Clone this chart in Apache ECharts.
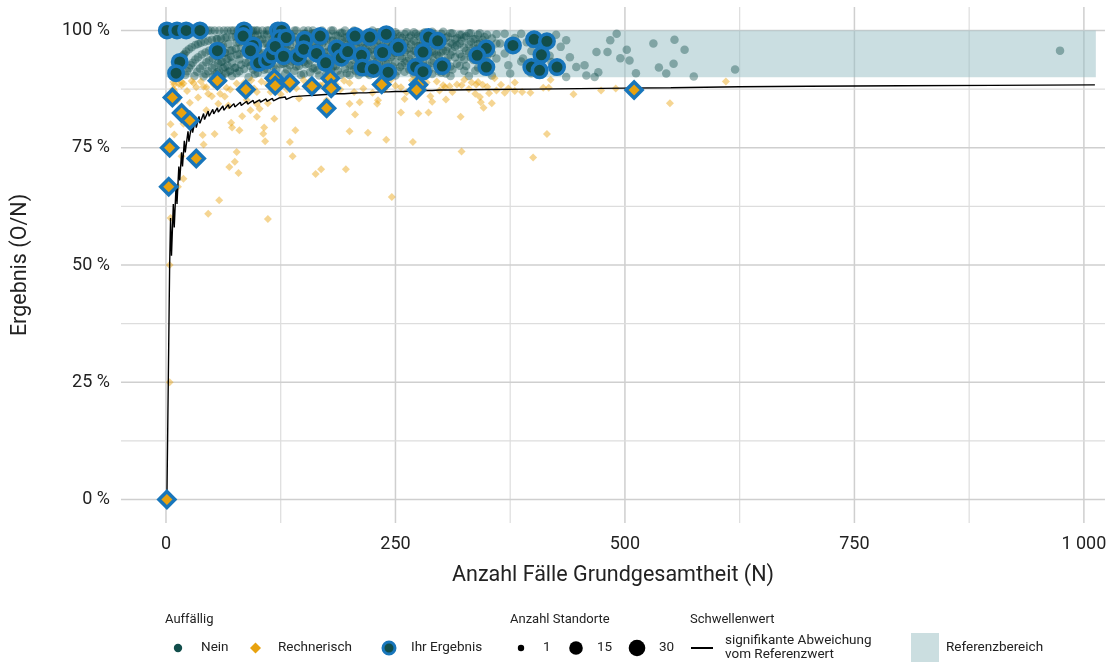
<!DOCTYPE html>
<html><head><meta charset="utf-8">
<script src="https://cdn.jsdelivr.net/npm/echarts@6/dist/echarts.min.js"></script>
<style>html,body{margin:0;padding:0;background:#fff}#c{width:1114px;height:664px}</style>
</head><body><div id="c"></div>
<script>
const xTicks = [0, 250, 500, 750, 1000];
const yTicks = [0, 25, 50, 75, 100];
const xGrid = [0, 125, 250, 375, 500, 625, 750, 875, 1000];
const yGrid = [0, 12.5, 25, 37.5, 50, 62.5, 75, 87.5, 100];
const refBand = [[0, 1013, 90, 100]];

const neinBg = [
[1,100],[2,100],[3,100],[4,100],[5,100],[6,100],[7,100],[8,100],[9,100],[10,100],[11,100],[12,100],[13,100],[14,100],[15,100],[16,100],[17,100],[18,100],[19,100],[20,100],
[10,90],[11,90.9],[12,91.7],[13,92.3],[14,92.9],[15,93.3],[16,93.8],[17,94.1],[18,94.4],[19,94.7],[20,95],
[22,100],[25,100],[28,100],[31,100],[34,100],[37,100],[40,100],[43,100],[46,100],[49,100],
[22,95.5],[25,96],[28,96.4],[32,96.9],[35,97.1],[38,97.4],[42,97.6],[46,97.8],[50,98],[55,98.2],[60,98.3],[66,98.5],
[21,90.5],[23,91.3],[25,92],[27,92.6],[29,93.1],[32,93.8],[35,94.3],[39,94.9],[43,95.3],[47,95.7],[52,96.2],[57,96.5],[62,96.8],[68,97.1],
[31,90.3],[34,91.2],[37,91.9],[40,92.5],[44,93.2],[47,93.6],[51,94.1],[55,94.5],[59,94.9],[64,95.3],[70,95.7],
[41,90.2],[43,90.7],[46,91.3],[50,92],[53,92.5],[57,93],[61,93.4],[66,93.9],[71,94.4],
[51,90.2],[54,90.7],[58,91.4],[62,91.9],[67,92.5],[72,93.1],
[61,90.2],[65,90.8],[70,91.4],[75,92],
[53,100],[58,100],[63,100],[67,100],[71,100],[74,100],[78,100],[83,100],[88,100],[93,100],[98,100],
[56,98.2],[56,94.6],[56,91.1],
[60,96.7],[60,93.3],[60,90],[64,98.4],[64,95.3],[64,92.2],
[68,94.1],[68,91.2],[72,98.6],[72,95.8],[72,90.3],
[76,96.1],[76,92.1],[76,98.7],[80,97.5],[80,93.8],[80,91.3],[80,100],[80,95],
[85,98.8],[85,95.3],[85,91.8],[85,100],[90,96.7],[90,93.3],[90,90],[90,98.9],
[95,97.9],[95,94.7],[95,91.6],[95,100],[95,96.8],[100,99],[100,96],[100,93],[100,91],[100,100],
[105,98.1],[105,95.2],[105,92.4],[105,100],[110,97.3],[110,94.5],[110,91.8],[110,99.1],[110,100],
[115,98.3],[115,95.7],[115,93],[115,90.4],[120,99.2],[120,96.7],[120,94.2],[120,91.7],[120,100],
[125,97.6],[125,95.2],[125,92.8],[125,100],[130,98.5],[130,96.2],[130,93.1],[130,90.8],[130,100],
[135,97],[135,94.8],[135,92.6],[135,99.3],[140,98.6],[140,95.7],[140,93.6],[140,91.4],[140,100],
[145,97.9],[145,96.6],[145,94.5],[145,92.4],[150,99.3],[150,96],[150,93.3],[150,90.7],[150,100],
[155,98.1],[155,95.5],[155,92.9],[155,100],[160,97.5],[160,95],[160,91.9],[160,99.4],[160,100],
[165,98.2],[165,96.4],[165,93.9],[165,91.5],[170,99.4],[170,97.1],[170,94.7],[170,92.4],[170,100],
[175,98.3],[175,95.4],[175,93.1],[175,90.9],[180,97.8],[180,96.1],[180,93.9],[180,91.7],[180,100],
[185,98.9],[185,96.8],[185,94.6],[185,92.4],[190,99.5],[190,97.4],[190,95.3],[190,93.2],[190,90.5],
[195,98.5],[195,96.4],[195,94.4],[195,91.8],[195,100],[200,99],[200,97],[200,95],[200,92.5],[200,90.5],
[205,98],[205,96.1],[205,93.7],[205,91.7],[205,100],[210,99.5],[210,97.6],[210,95.2],[210,92.9],[210,90.5],
[215,98.6],[215,96.3],[215,94],[215,91.6],[220,99.1],[220,97.3],[220,95.5],[220,93.2],[220,90.9],
[225,98.2],[225,96],[225,93.8],[225,91.6],[225,100],[230,99.6],[230,97.4],[230,95.7],[230,93.5],[230,90.9],
[235,98.7],[235,96.6],[235,94.5],[235,92.3],[240,99.2],[240,97.5],[240,95.4],[240,92.9],[240,90.8],
[245,98.4],[245,96.3],[245,94.3],[245,91.4],[250,99.6],[250,97.6],[250,95.2],[250,93.2],[250,90.4],
[255,98.8],[255,96.9],[255,94.5],[255,92.2],[260,99.2],[260,97.3],[260,95.4],[260,93.1],[260,91.2],
[265,98.5],[265,96.2],[265,94],[265,91.7],[270,99.6],[270,97.8],[270,95.6],[270,93.3],[270,90.7],
[275,98.9],[275,96.7],[275,94.5],[275,92.4],[280,99.3],[280,97.5],[280,95.4],[280,93.2],[280,91.1],
[285,98.2],[285,96.5],[285,94.4],[285,92.6],[290,99.7],[290,97.6],[290,95.5],[290,93.1],[290,90.7],
[295,98.6],[295,96.9],[295,94.9],[295,92.5],[300,99.3],[300,97.3],[300,95.3],[300,93.3],[300,91],
[77,97.4],[77,94.8],[77,90.9],[82,98.8],[82,96.3],[82,92.7],
[87,100],[87,97.7],[87,93.1],[92,98.9],[92,95.9],[92,92.4],[97,99],[97,96.9],[97,93.8],[97,90.7],
[102,98],[102,95.1],[102,92.2],[107,99.1],[107,97.2],[107,94.4],[107,91.6],[112,100],[112,96.4],[112,93.8],
[117,98.3],[117,95.7],[117,92.3],[122,99.2],[122,97.5],[122,94.3],[122,90.2],[127,98.4],[127,96.1],[127,92.9],
[132,99.2],[132,97],[132,94.7],[132,91.7],[137,98.5],[137,95.6],[137,93.4],[142,100],[142,97.2],[142,94.4],[142,92.3],
[147,98.6],[147,96.6],[147,93.9],[147,90.5],[152,99.3],[152,97.4],[152,95.4],[152,92.8],[157,98.1],[157,96.2],[157,93.6],[157,91.1],
[162,99.4],[162,97.5],[162,94.4],[162,92],[167,98.8],[167,96.4],[167,94],[167,90.4],[172,99.4],[172,97.7],[172,95.3],[172,93],
[177,98.9],[177,96.6],[177,94.4],[177,91.5],[182,100],[182,97.8],[182,95.6],[182,92.3],[187,98.9],[187,96.3],[187,94.1],[187,91.4],
[192,99.5],[192,97.9],[192,95.8],[192,93.2],[197,98.5],[197,96.9],[197,94.9],[197,90.9],[202,99.5],[202,97.5],[202,95.5],[202,92.6],
[207,98.6],[207,96.6],[207,94.2],[207,91.3],[212,99.1],[212,97.2],[212,95.3],[212,93.4],[217,98.6],[217,96.3],[217,94.5],[217,92.2],
[222,99.5],[222,97.7],[222,95.5],[222,90.5],[227,98.7],[227,96.9],[227,94.7],[227,92.5],[232,99.6],[232,97.8],[232,95.3],[232,93.1],
[237,98.7],[237,96.2],[237,94.1],[237,91.6],[242,99.6],[242,97.5],[242,95.5],[242,93.4],[247,98.8],[247,96.8],[247,94.7],[247,92.3],
[252,99.2],[252,97.6],[252,95.6],[252,91.3],[257,98.4],[257,96.5],[257,94.2],[257,92.6],[262,99.6],[262,97.7],[262,95.8],[262,93.5],
[267,98.9],[267,97],[267,94.8],[267,92.1],[272,99.3],[272,97.4],[272,95.6],[272,91.5],[277,98.6],[277,96.8],[277,94.6],[277,93.1],
[282,99.6],[282,97.9],[282,96.1],[282,92.2],[287,98.3],[287,96.5],[287,94.8],[287,91.6],[292,99.3],[292,97.6],[292,95.2],[292,93.5],
[297,98.7],[297,96.6],[297,94.6],[297,91.3],[302,99.7],[302,97.7],[302,95.7],[302,93],[307,98.7],[307,96.4],[307,94.1],
[312,99.4],[312,97.1],[312,95.5],[312,91.7],[317,98.4],[317,96.8],[317,92.9],[322,99.1],[322,97.8],[322,94.4],
[327,98.8],[327,95.7],[327,92.4],[332,99.4],[332,97.6],[332,94.3],[337,98.2],[337,96],[337,91.4],[342,99.4],[342,97.4],[342,95.3],
[347,98.6],[347,94.2],[347,92.2],
[305,98.4],[305,95.7],[305,93.4],[305,90.8],[310,99.4],[310,97.4],[310,94.8],[310,92.3],[310,90.3],
[315,98.1],[315,96.5],[315,94.3],[320,99.1],[320,97.2],[320,95],[320,92.5],
[325,98.5],[325,96.3],[325,93.8],[325,91.4],[330,99.4],[330,97],[330,95.2],[330,90.3],
[335,98.2],[335,96.4],[335,93.7],[340,99.1],[340,97.1],[340,94.7],[340,92.1],
[345,98],[345,95.9],[345,93.3],[350,99.1],[350,96.9],[350,94.6],[350,91.7],
[355,98.3],[355,95.2],[355,90.4],[360,99.2],[360,97.2],[360,94],[364,97.2],[369,99.3],[369,95.1],
[373,92.6],[375,90.8],[380,98.4],[380,96.1],[387,99.3],[387,93.4],[389,94],[393,97.5],[398,95.6],[398,90.9],
[403,99],[408,96.8],[408,92.9],[413,98.3],[418,97.5],[418,94.6],[420,93.3],[425,99.1],[425,91.2],[430,96.5],
[436,90.1],[436,97.9],[440,94.3],[447,92.2],[456,92.6],[458,90.4],[467,90.1],[469,95.4],[471,91.1],
[481,95.4],[484,97.9],[491,99.3],[495,94.1],[502,95.9],[505,93.6],[512,90.9],[531,97.2],[537,92.1],
[545,90.8],[553,92.9],[554,98],[565,95.9],[575,90.2],[620,91.7],[974,95.7]
];

const rechBg = [
[4,25],[4,50],[5,60],[5,80],[9,77.8],[8,87.5],[9,88.5],[8,89],[17,89],[19,88.7],[28,89.2],[9,87.1],[23,87.1],
[30,88.8],[17,88.3],[41,88],[44,87.9],[59,86.5],[46,86.5],[70,87.4],[77,88.7],[81,87.2],[93,89.4],[57,84.4],
[68,84],[44,83],[19,80.1],[40,77.7],[41,75.7],[53,77.9],[71,80.3],[72,79.3],[80,78.7],[83,81.7],[92,83],
[99,84.3],[99,86.9],[99,81.6],[102,83.3],[106,78],[107,79.3],[108,76.4],[111,84.5],[118,81.2],[120,87.9],
[132,87.4],[77,74.1],[75,72],[69,70.9],[79,69.6],[17,73.2],[19,68.4],[13,66.7],[58,63.8],[46,60.9],[111,59.8],
[141,78.7],[135,76.2],[138,73.2],[150,89.4],[153,88.3],[163,69.4],[168,88.3],[169,70.4],[182,89],[196,70.4],
[200,78.5],[200,84.4],[200,88.8],[206,82.1],[211,84.7],[215,87.6],[220,78.2],[230,84.4],[230,88.8],[231,85.1],
[233,89],[240,76.7],[246,64.5],[256,82.5],[268,89.4],[269,76.2],[275,82.3],[280,87.6],[286,82.5],[288,86],
[302,88.3],[304,87.9],[305,85.3],[309,88.1],[317,88.5],[321,81.6],[322,88.3],[322,74.2],
[337,86.5],[338,88.5],[340,89],[342,85.8],[343,84.7],[346,83.5],[355,84.5],[358,89.8],[369,86.7],[397,86.7],
[400,72.9],[411,87.8],[415,77.9],[417,87.8],[419,89.5],[444,86.4],[474,87.2],[490,87.6],[549,84.5],[610,89.1],
[62,89.2],[110,88.6],[138,89.3],[190,87.4],[250,88.2],[262,86.8],[295,89.1],[325,89.5],[350,88],[360,87.2],
[380,88.9],[12,85],[26,84.6],[35,85.7],[50,86],[64,85.9],[88,85.2],[125,86.4],[145,85.5],[160,86.9],[175,85.1],
[185,88.5],[225,86.7],[260,85.4],[290,84.8],[330,87.5],[345,88.4],[380,87.1],
[14,88.6],[33,87.9],[38,89.1],[52,88.5],[66,87.8],[85,88.8],[96,87.6],[104,89.1],[114,86.9],[128,88.3],[142,87.7],
[157,89.2],[172,88.6],[194,89.3],[205,86.9],[238,87.4],[245,89.5],[256,87.9],[272,89.6],[284,88.9],[298,87.2],
[312,86.9],[333,88.9],[352,86.6],[365,88.4],[373,87.6],[388,86.9]
];

const threshold = [
[1,0],[2,0],[3,33.3],[4,50],[5,60],[6,52],[8,63],[9,58],[11,67],[12,63],[14,71],[15,68],[17,74],[18,71],
[20,76.5],[21,74],[24,78.5],[25,76.3],[28,80],[29,78.2],[32,81],[33,79.3],[36,81.7],[37,80.2],[41,82.3],[42,81],
[46,82.8],[47,81.7],[51,83.2],[52,82.2],[56,83.5],[57,82.6],[62,83.9],[63,83],[68,84.2],[69,83.4],[74,84.4],
[75,83.7],[81,84.7],[82,84],[88,84.9],[89,84.3],[95,85.1],[96,84.5],[102,85.2],[103,84.7],[109,85.4],[110,84.9],
[116,85.5],[117,85],[123,85.6],[124,85.2],[130,85.8],[131,85.3],[138,85.9],[139,85.5],[146,86],[147,85.6],
[154,86.1],[155,85.7],[162,86.2],[163,85.8],[170,86.3],[171,85.9],[178,86.4],[179,86],[186,86.5],[187,86.1],
[194,86.5],[195,86.2],[202,86.6],[203,86.3],[210,86.7],[211,86.4],[218,86.7],[219,86.4],[226,86.8],[227,86.5],
[234,86.9],[235,86.6],[242,86.9],[243,86.6],[250,87],[251,86.7],[258,87],[259,86.8],[266,87.1],[267,86.8],
[274,87.1],[275,86.9],[282,87.2],[283,86.9],[290,87.2],[291,87],[298,87.3],[299,87],[310,87.3],[350,87.4],
[400,87.5],[450,87.6],[500,87.7],[550,87.8],[625,88],[700,88.1],[800,88.2],[900,88.3],[1012,88.4]
];

const ihrNein = [
[1,100],[12,100],[22,100],[37,100],[15,93.3],[11,90.9],[56,95.7],[85,100],[84,98.8],[95,96.8],[92,95.7],
[101,93.1],[110,93.6],[115,94.8],[122,100],[126,100],[124,98.4],[131,98.5],[119,96.6],[128,94.5],[144,94.4],
[151,98],[150,96],[164,95.1],[168,98.8],[174,93.1],[186,96.2],[191,94.2],[198,95.5],[206,98.8],[213,94.7],
[214,92.1],[222,98.6],[226,91.8],[236,95.3],[240,99.2],[242,91.1],[253,96.4],[272,92.2],[280,95.4],[280,91.2],
[286,98.6],[296,97.8],[301,92.4],[349,96.2],[339,94.7],[349,92.2],[378,96.8],[401,98.1],[415,97.7],[409,94.8],
[398,92.2],[407,91.5],[426,92.2]
];

const ihrRech = [
[1,0],[3,66.7],[4,75],[7,85.7],[17,82.4],[26,80.8],[33,72.7],[56,89.3],[87,87.4],[118,89.8],[119,88.2],
[135,88.9],[159,88.1],[179,89.8],[180,87.7],[175,83.4],[235,88.5],[275,88.4],[273,87.3],[510,87.3]
];

const FONT = 'Roboto, "DejaVu Sans", sans-serif';
const TEAL = '#124e4b', ORANGE = '#e8a20e', BLUE = '#1876bb', BAND = 'rgba(150,190,195,0.5)';

const chart = echarts.init(document.getElementById('c'), null, {renderer: 'canvas'});

function legendText(x, y, t, size) {
  return {type: 'text', x: x, y: y, z: 10, style: {text: t, fill: '#222', fontFamily: FONT, fontSize: size || 13.5, verticalAlign: 'middle', align: 'left'}};
}
const LY = 648, TY = 620;
const graphic = [
  legendText(165, TY, 'Auffällig', 13),
  legendText(510, TY, 'Anzahl Standorte', 13),
  legendText(690, TY, 'Schwellenwert', 13),
  {type: 'circle', x: 178, y: LY, shape: {r: 4.2}, style: {fill: TEAL}},
  legendText(201, LY, 'Nein'),
  {type: 'polygon', shape: {points: [[255.5, 642.5], [261, 648], [255.5, 653.5], [250, 648]]}, style: {fill: ORANGE}},
  legendText(278, LY, 'Rechnerisch'),
  {type: 'circle', x: 389, y: LY, shape: {r: 6}, style: {fill: TEAL, stroke: BLUE, lineWidth: 3}},
  legendText(411, LY, 'Ihr Ergebnis'),
  {type: 'circle', x: 521, y: LY, shape: {r: 3.2}, style: {fill: '#000'}},
  legendText(543, LY, '1'),
  {type: 'circle', x: 576, y: LY, shape: {r: 6.8}, style: {fill: '#000'}},
  legendText(597, LY, '15'),
  {type: 'circle', x: 637, y: LY, shape: {r: 8.3}, style: {fill: '#000'}},
  legendText(659, LY, '30'),
  {type: 'line', shape: {x1: 691, y1: LY, x2: 713, y2: LY}, style: {stroke: '#000', lineWidth: 2}},
  legendText(725, 641, 'signifikante Abweichung'),
  legendText(725, 655, 'vom Referenzwert'),
  {type: 'rect', shape: {x: 911, y: 633, width: 28, height: 29}, style: {fill: '#cbdee0'}},
  legendText(946, LY, 'Referenzbereich')
];

const option = {
  animation: false,
  textStyle: {fontFamily: FONT},
  grid: {left: 121, right: 9, top: 7, bottom: 141, containLabel: false},
  xAxis: {
    type: 'value', min: -49, max: 1023,
    axisLine: {show: false}, axisTick: {show: false}, splitLine: {show: false},
    axisLabel: {customValues: xTicks, formatter: v => (v === 1000 ? '1 000' : String(v)), fontSize: 18, color: '#222', margin: 12, fontFamily: FONT},
    name: 'Anzahl Fälle Grundgesamtheit (N)', nameLocation: 'middle', nameGap: 42,
    nameTextStyle: {fontSize: 21.5, color: '#222', fontFamily: FONT}
  },
  yAxis: {
    type: 'value', min: -5, max: 105,
    axisLine: {show: false}, axisTick: {show: false}, splitLine: {show: false},
    axisLabel: {customValues: yTicks, formatter: v => v + ' %', fontSize: 18, color: '#222', margin: 11, fontFamily: FONT},
    name: 'Ergebnis (O/N)', nameLocation: 'middle', nameGap: 89, nameRotate: 90,
    nameTextStyle: {fontSize: 21.5, color: '#222', fontFamily: FONT}
  },
  graphic: graphic,
  series: [
    {
      name: 'gridX', type: 'custom', silent: true, z: 0,
      data: xGrid.map(v => [v]), encode: {x: 0},
      renderItem: (p, api) => {
        const v = api.value(0), a = api.coord([v, -5]), b = api.coord([v, 105]);
        const major = v % 250 === 0;
        return {type: 'line', shape: {x1: a[0], y1: a[1], x2: b[0], y2: b[1]}, style: {stroke: major ? '#cfcfcf' : '#dddddd', lineWidth: major ? 1.5 : 1.2}};
      }
    },
    {
      name: 'gridY', type: 'custom', silent: true, z: 0,
      data: yGrid.map(v => [v]), encode: {y: 0},
      renderItem: (p, api) => {
        const v = api.value(0), a = api.coord([-49, v]), b = api.coord([1023, v]);
        const major = v % 25 === 0;
        return {type: 'line', shape: {x1: a[0], y1: a[1], x2: b[0], y2: b[1]}, style: {stroke: major ? '#cfcfcf' : '#dddddd', lineWidth: major ? 1.5 : 1.2}};
      }
    },
    {
      name: 'Referenzbereich', type: 'custom', silent: true, z: 1,
      data: refBand, encode: {x: [0, 1], y: [2, 3]},
      renderItem: (p, api) => {
        const a = api.coord([api.value(0), api.value(3)]), b = api.coord([api.value(1), api.value(2)]);
        return {type: 'rect', shape: {x: a[0], y: a[1], width: b[0] - a[0], height: b[1] - a[1]}, style: {fill: BAND}};
      }
    },
    {
      name: 'Nein', type: 'scatter', z: 2, data: neinBg, symbol: 'circle', symbolSize: 8.5,
      itemStyle: {color: TEAL, opacity: 0.4}
    },
    {
      name: 'Rechnerisch', type: 'scatter', z: 2, data: rechBg, symbol: 'diamond', symbolSize: 8,
      itemStyle: {color: ORANGE, opacity: 0.45}
    },
    {
      name: 'Schwellenwert', type: 'line', z: 3, data: threshold, showSymbol: false, symbol: 'none',
      lineStyle: {color: '#000', width: 1.4}
    },
    {
      name: 'Ihr Ergebnis', type: 'scatter', z: 4, data: ihrNein, symbol: 'circle', symbolSize: 14.5,
      itemStyle: {color: TEAL, borderColor: BLUE, borderWidth: 3.5, opacity: 1}
    },
    {
      name: 'Ihr Ergebnis (rechnerisch)', type: 'scatter', z: 5, data: ihrRech, symbol: 'diamond', symbolSize: 16,
      itemStyle: {color: ORANGE, borderColor: BLUE, borderWidth: 3.5, opacity: 1}
    }
  ]
};
chart.setOption(option);
</script></body></html>
